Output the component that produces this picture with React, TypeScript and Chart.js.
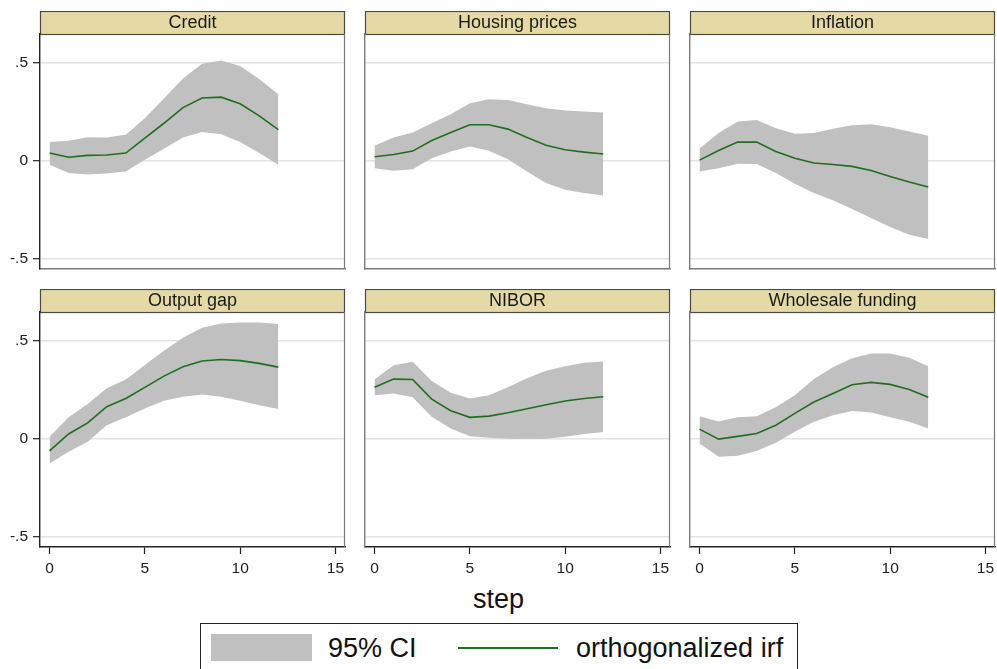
import React, { useEffect, useRef } from "react";
import { Chart, registerables } from "chart.js";

Chart.register(...registerables);

const FONT = '"Liberation Sans", Arial, Helvetica, sans-serif';

const STEPS = [0, 1, 2, 3, 4, 5, 6, 7, 8, 9, 10, 11, 12];
const X_TICKS = [0, 5, 10, 15];
const Y_TICKS = [-0.5, 0, 0.5];
const PANEL_TITLES = ["Credit", "Housing prices", "Inflation", "Output gap", "NIBOR", "Wholesale funding"];

const creditIrf = [0.041, 0.02, 0.029, 0.031, 0.041, 0.117, 0.193, 0.273, 0.322, 0.326, 0.292, 0.231, 0.16];
const creditUpper = [0.098, 0.104, 0.122, 0.12, 0.134, 0.219, 0.319, 0.421, 0.496, 0.513, 0.485, 0.419, 0.341];
const creditLower = [-0.019, -0.061, -0.068, -0.063, -0.053, 0.007, 0.063, 0.12, 0.148, 0.137, 0.097, 0.041, -0.019];

const housingIrf = [0.022, 0.034, 0.051, 0.105, 0.146, 0.185, 0.185, 0.163, 0.12, 0.081, 0.058, 0.046, 0.036];
const housingUpper = [0.078, 0.12, 0.146, 0.193, 0.239, 0.295, 0.316, 0.312, 0.29, 0.27, 0.258, 0.253, 0.248];
const housingLower = [-0.036, -0.049, -0.042, 0.015, 0.049, 0.075, 0.053, 0.01, -0.053, -0.112, -0.146, -0.163, -0.175];

const inflationIrf = [0.005, 0.054, 0.097, 0.097, 0.049, 0.015, -0.01, -0.017, -0.027, -0.048, -0.078, -0.107, -0.132];
const inflationUpper = [0.064, 0.143, 0.202, 0.21, 0.168, 0.139, 0.143, 0.165, 0.183, 0.188, 0.173, 0.151, 0.129];
const inflationLower = [-0.053, -0.036, -0.014, -0.015, -0.061, -0.115, -0.163, -0.2, -0.244, -0.29, -0.336, -0.375, -0.397];

const outputIrf = [-0.06, 0.026, 0.083, 0.165, 0.207, 0.264, 0.321, 0.369, 0.398, 0.406, 0.4, 0.386, 0.367];
const outputUpper = [0.012, 0.111, 0.179, 0.259, 0.304, 0.378, 0.451, 0.517, 0.568, 0.59, 0.595, 0.594, 0.587];
const outputLower = [-0.124, -0.065, -0.014, 0.071, 0.111, 0.156, 0.196, 0.216, 0.228, 0.216, 0.196, 0.173, 0.153];

const niborIrf = [0.264, 0.306, 0.304, 0.204, 0.145, 0.111, 0.117, 0.134, 0.155, 0.175, 0.194, 0.207, 0.216];
const niborUpper = [0.304, 0.376, 0.395, 0.296, 0.236, 0.207, 0.224, 0.264, 0.31, 0.349, 0.372, 0.389, 0.396];
const niborLower = [0.223, 0.233, 0.213, 0.114, 0.054, 0.015, 0.007, 0.002, 0.0, 0.002, 0.012, 0.026, 0.036];

const wholesaleIrf = [0.051, 0.0, 0.014, 0.029, 0.071, 0.131, 0.189, 0.233, 0.277, 0.289, 0.279, 0.253, 0.213];
const wholesaleUpper = [0.117, 0.09, 0.111, 0.117, 0.162, 0.224, 0.306, 0.366, 0.412, 0.437, 0.437, 0.415, 0.372];
const wholesaleLower = [-0.022, -0.09, -0.085, -0.06, -0.019, 0.037, 0.088, 0.122, 0.143, 0.136, 0.111, 0.088, 0.054];

const PANEL_DATA = [
  [creditIrf, creditUpper, creditLower],
  [housingIrf, housingUpper, housingLower],
  [inflationIrf, inflationUpper, inflationLower],
  [outputIrf, outputUpper, outputLower],
  [niborIrf, niborUpper, niborLower],
  [wholesaleIrf, wholesaleUpper, wholesaleLower],
];

const BAND_COLOR = "#C0C0C0";
const LINE_COLOR = "#1F6E1F";
const HEADER_FILL = "#E5DAA5";

const PLOT_LEFTS = [40, 365, 690];
const PLOT_TOPS = [34, 312];
const PLOT_W = 305;
const PLOT_H = 235;
const HEADER_H = 23;
const Y_AXIS_W = 40;
const RIGHT_PAD = 2;

const headerPlugin = {
  id: "headerBox",
  beforeDraw(chart: any) {
    const { ctx, chartArea } = chart;
    ctx.save();
    ctx.fillStyle = HEADER_FILL;
    ctx.fillRect(chartArea.left, chartArea.top - HEADER_H, chartArea.right - chartArea.left, HEADER_H);
    ctx.strokeStyle = "#4a4a4a";
    ctx.lineWidth = 1.2;
    ctx.strokeRect(chartArea.left + 0.5, chartArea.top - HEADER_H + 0.5, chartArea.right - chartArea.left - 1, HEADER_H);
    ctx.restore();
  },
  afterDraw(chart: any) {
    const { ctx, chartArea } = chart;
    ctx.save();
    ctx.strokeStyle = "#7a7a7a";
    ctx.lineWidth = 1.2;
    ctx.beginPath();
    ctx.moveTo(chartArea.right - 0.5, chartArea.top);
    ctx.lineTo(chartArea.right - 0.5, chartArea.bottom);
    ctx.stroke();
    ctx.restore();
  },
};

function Panel({ index }: { index: number }) {
  const ref = useRef<HTMLCanvasElement | null>(null);
  const col = index % 3;
  const row = Math.floor(index / 3);
  const bottomH = row === 1 ? 32 : 2;
  const width = Y_AXIS_W + PLOT_W + RIGHT_PAD;
  const height = HEADER_H + PLOT_H + bottomH;
  const left = PLOT_LEFTS[col] - Y_AXIS_W;
  const top = PLOT_TOPS[row] - HEADER_H;

  useEffect(() => {
    if (!ref.current) return;
    const [irf, upper, lower] = PANEL_DATA[index];
    const chart = new Chart(ref.current, {
      type: "line",
      data: {
        datasets: [
          {
            label: "upper",
            data: STEPS.map((s, i) => ({ x: s, y: upper[i] })),
            borderColor: "rgba(0,0,0,0)",
            borderWidth: 0,
            pointRadius: 0,
            fill: false,
            order: 2,
          },
          {
            label: "95% CI",
            data: STEPS.map((s, i) => ({ x: s, y: lower[i] })),
            borderColor: "rgba(0,0,0,0)",
            backgroundColor: BAND_COLOR,
            borderWidth: 0,
            pointRadius: 0,
            fill: "-1",
            order: 1,
          },
          {
            label: "orthogonalized irf",
            data: STEPS.map((s, i) => ({ x: s, y: irf[i] })),
            borderColor: LINE_COLOR,
            borderWidth: 1.6,
            pointRadius: 0,
            fill: false,
            tension: 0,
            order: 0,
          },
        ],
      },
      options: {
        responsive: false,
        animation: false,
        devicePixelRatio: 1,
        layout: { padding: { left: 0, right: RIGHT_PAD, top: 0, bottom: 0 } },
        plugins: {
          legend: { display: false },
          tooltip: { enabled: false },
          title: {
            display: true,
            text: PANEL_TITLES[index],
            fullSize: false,
            color: "#1a1a1a",
            font: { size: 18, family: FONT, weight: "normal" },
            padding: { top: 1.2, bottom: 0.2 },
          },
        },
        scales: {
          x: {
            type: "linear",
            min: -0.5,
            max: 15.5,
            afterBuildTicks: (scale: any) => {
              scale.ticks = X_TICKS.map((v) => ({ value: v }));
            },
            afterFit: (scale: any) => {
              scale.height = bottomH;
              scale.paddingLeft = 0;
              scale.paddingRight = 0;
            },
            grid: {
              display: row === 1,
              drawOnChartArea: false,
              drawTicks: row === 1,
              tickLength: 7,
              tickColor: "#222",
              tickWidth: 1.2,
            },
            border: { display: true, color: row === 1 ? "#222" : "#7a7a7a", width: 1.4 },
            ticks: {
              display: row === 1,
              padding: 5,
              color: "#222",
              font: { size: 15.5, family: FONT },
              maxRotation: 0,
              autoSkip: false,
              callback: (v: any) => String(v),
            },
          },
          y: {
            type: "linear",
            min: -0.55,
            max: 0.648,
            afterBuildTicks: (scale: any) => {
              scale.ticks = Y_TICKS.map((v) => ({ value: v }));
            },
            afterFit: (scale: any) => {
              scale.width = Y_AXIS_W;
              scale.paddingTop = 0;
              scale.paddingBottom = 0;
            },
            grid: {
              display: true,
              drawOnChartArea: true,
              drawTicks: col === 0,
              tickLength: 7,
              color: "#E4E4E4",
              lineWidth: 1.4,
              tickColor: "#222",
              tickWidth: 1.2,
            },
            border: { display: true, color: col === 0 ? "#222" : "#7a7a7a", width: 1.4 },
            ticks: {
              display: col === 0,
              padding: 5,
              color: "#222",
              font: { size: 15.5, family: FONT },
              autoSkip: false,
              callback: (v: any) => (v === 0.5 ? ".5" : v === -0.5 ? "-.5" : "0"),
            },
          },
        },
      },
      plugins: [headerPlugin],
    } as any);
    return () => chart.destroy();
  }, [index]);

  return (
    <canvas
      ref={ref}
      width={width}
      height={height}
      style={{ position: "absolute", left, top, width, height }}
    />
  );
}

export default function App() {
  return (
    <div
      style={{
        position: "absolute",
        left: 0,
        top: 0,
        width: 997,
        height: 669,
        background: "#ffffff",
        overflow: "hidden",
        fontFamily: FONT,
        color: "#111",
      }}
    >
      {[0, 1, 2, 3, 4, 5].map((i) => (
        <Panel key={i} index={i} />
      ))}
      <div
        style={{
          position: "absolute",
          left: 0,
          top: 586,
          width: 997,
          textAlign: "center",
          fontSize: 27,
          lineHeight: "27px",
        }}
      >
        step
      </div>
      <div
        style={{
          position: "absolute",
          left: 200,
          top: 623,
          width: 598,
          height: 52,
          boxSizing: "border-box",
          border: "1.4px solid #222",
        }}
      >
        <div
          style={{
            position: "absolute",
            left: 10,
            top: 10,
            width: 101,
            height: 27,
            background: BAND_COLOR,
          }}
        />
        <div
          style={{
            position: "absolute",
            left: 127,
            top: 11,
            fontSize: 27,
            lineHeight: "27px",
            whiteSpace: "nowrap",
          }}
        >
          95% CI
        </div>
        <div
          style={{
            position: "absolute",
            left: 257,
            top: 23,
            width: 100,
            height: 2,
            background: LINE_COLOR,
          }}
        />
        <div
          style={{
            position: "absolute",
            left: 375,
            top: 11,
            fontSize: 27,
            lineHeight: "27px",
            whiteSpace: "nowrap",
          }}
        >
          orthogonalized irf
        </div>
      </div>
    </div>
  );
}
